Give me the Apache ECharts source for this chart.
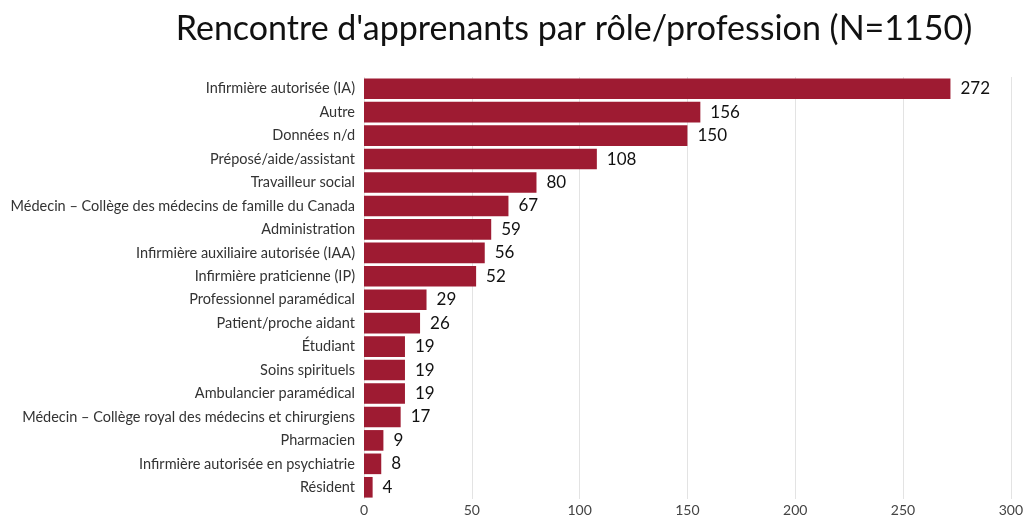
<!DOCTYPE html>
<html>
<head>
<meta charset="utf-8">
<script src="https://cdn.jsdelivr.net/npm/echarts@6/dist/echarts.min.js"></script>
<style>
html,body{margin:0;padding:0;background:#fff;}
#chart{width:1026px;height:517px;}
</style>
</head>
<body>
<div id="chart"></div>
<script>
var roles = ['Infirmière autorisée (IA)', 'Autre', 'Données n/d', 'Préposé/aide/assistant',
	'Travailleur social', 'Médecin – Collège des médecins de famille du Canada', 'Administration',
	'Infirmière auxiliaire autorisée (IAA)', 'Infirmière praticienne (IP)', 'Professionnel paramédical',
	'Patient/proche aidant', 'Étudiant', 'Soins spirituels', 'Ambulancier paramédical',
	'Médecin – Collège royal des médecins et chirurgiens', 'Pharmacien',
	'Infirmière autorisée en psychiatrie', 'Résident'];
var counts = [272, 156, 150, 108, 80, 67, 59, 56, 52, 29, 26, 19, 19, 19, 17, 9, 8, 4];
var xTicks = [0, 50, 100, 150, 200, 250, 300];

var myChart = echarts.init(document.getElementById('chart'));
var option = {
	backgroundColor: '#fff',
	animation: false,
	title: {
		text: "Rencontre d'apprenants par rôle/profession (N=1150)",
		left: 569,
		textAlign: 'center',
		top: 7,
		textStyle: {
			fontFamily: 'Lato',
			fontWeight: 'normal',
			fontSize: 34,
			color: '#111'
		}
	},
	grid: {
		left: 364,
		right: 14,
		top: 77,
		bottom: 16,
		containLabel: false
	},
	xAxis: {
		type: 'value',
		min: xTicks[0],
		max: xTicks[xTicks.length - 1],
		interval: 50,
		axisLine: { show: false },
		axisTick: { show: false },
		splitLine: { lineStyle: { color: '#e3e3e3', width: 1 } },
		axisLabel: {
			color: '#444',
			fontFamily: 'Lato',
			fontSize: 14,
			margin: 4
		}
	},
	yAxis: {
		type: 'category',
		inverse: true,
		data: roles,
		axisLine: { show: false },
		axisTick: { show: false },
		axisLabel: {
			color: '#333',
			fontFamily: 'Lato',
			fontSize: 14.5,
			margin: 9
		}
	},
	series: [{
		type: 'bar',
		data: counts,
		barCategoryGap: '12%',
		itemStyle: { color: '#9e1b32' },
		label: {
			show: true,
			position: 'right',
			distance: 10,
			color: '#111',
			fontFamily: 'Lato',
			fontSize: 17
		}
	}]
};
myChart.setOption(option);
</script>
</body>
</html>
